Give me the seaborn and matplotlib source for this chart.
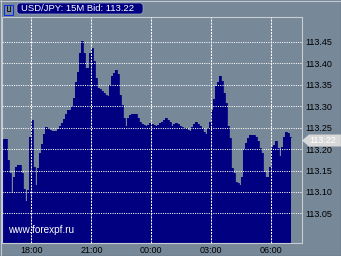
import matplotlib
matplotlib.use("Agg")
import matplotlib.pyplot as plt
import matplotlib.dates as mdates
from matplotlib.patches import FancyBboxPatch, Rectangle, Polygon
from matplotlib.lines import Line2D
from matplotlib.transforms import IdentityTransform
import pandas as pd
import seaborn as sns

# ---------------- data ----------------
symbol = "USD/JPY"
timeframe = "15M"
bid = 113.22
start_time = "2007-01-01 16:36"
bar_minutes = 6
prices = [
    113.223, 113.223, 113.175, 113.144, 113.097, 113.136, 113.159, 113.163, 113.163, 113.144,
    113.108, 113.079, 113.105, 113.229, 113.268, 113.159, 113.116, 113.155, 113.190, 113.212,
    113.236, 113.251, 113.249, 113.245, 113.243, 113.243, 113.243, 113.247, 113.253, 113.261,
    113.270, 113.282, 113.292, 113.292, 113.301, 113.318, 113.357, 113.379, 113.424, 113.452,
    113.424, 113.389, 113.389, 113.424, 113.436, 113.405, 113.366, 113.342, 113.339, 113.335,
    113.331, 113.327, 113.323, 113.350, 113.370, 113.377, 113.384, 113.374, 113.327, 113.303,
    113.272, 113.253, 113.272, 113.280, 113.282, 113.282, 113.282, 113.272, 113.263, 113.259,
    113.257, 113.253, 113.257, 113.261, 113.259, 113.257, 113.253, 113.257, 113.261, 113.264,
    113.268, 113.272, 113.268, 113.262, 113.254, 113.258, 113.261, 113.259, 113.254, 113.251,
    113.249, 113.249, 113.245, 113.243, 113.251, 113.259, 113.262, 113.258, 113.254, 113.249,
    113.241, 113.236, 113.249, 113.264, 113.292, 113.317, 113.346, 113.356, 113.370, 113.358,
    113.331, 113.307, 113.253, 113.225, 113.155, 113.144, 113.124, 113.122, 113.116, 113.136,
    113.200, 113.214, 113.225, 113.233, 113.233, 113.233, 113.228, 113.220, 113.202, 113.190,
    113.147, 113.134, 113.136, 113.159, 113.204, 113.210, 113.220, 113.202, 113.183, 113.206,
    113.229, 113.241, 113.237, 113.229,
]
y_ticks = [113.05, 113.10, 113.15, 113.20, 113.25, 113.30, 113.35, 113.40, 113.45]
x_tick_times = ["2007-01-01 18:00", "2007-01-01 21:00", "2007-01-02 00:00",
                "2007-01-02 03:00", "2007-01-02 06:00"]
x_tick_labels = ["18:00", "21:00", "00:00", "03:00", "06:00"]
x_range = ["2007-01-01 16:32", "2007-01-02 07:32"]
y_range = [112.981, 113.508]
watermark = "www.forexpf.ru"

# ---------------- style ----------------
BG = "#778899"
NAVY = "#000080"
FRAME = "#c8cdd2"

sns.set_style("ticks")
plt.rcParams["font.family"] = ["Liberation Sans", "DejaVu Sans"]

W, H = 341, 256
fig = plt.figure(figsize=(W / 100, H / 100), dpi=100, facecolor=BG)
ax = fig.add_axes([2 / W, 1 - 243 / H, 300 / W, 226 / H])
ax.set_facecolor(BG)

times = pd.date_range(start_time, periods=len(prices) + 1, freq=f"{bar_minutes}min")
df = pd.DataFrame({"time": times, "price": prices + [prices[-1]]})

ax.fill_between(df["time"], df["price"], y_range[0], step="post",
                color=NAVY, lw=0, zorder=1)
sns.lineplot(data=df, x="time", y="price", drawstyle="steps-post",
             color=NAVY, lw=0.6, ax=ax, zorder=2)

ax.set_xlim(pd.Timestamp(x_range[0]), pd.Timestamp(x_range[1]))
ax.set_ylim(*y_range)
ax.set_xlabel("")
ax.set_ylabel("")

ax.set_xticks([pd.Timestamp(t) for t in x_tick_times])
ax.set_xticklabels(x_tick_labels)
ax.set_yticks(y_ticks)
ax.set_yticklabels([f"{v:.2f}" for v in y_ticks])
ax.yaxis.tick_right()
ax.tick_params(axis="y", length=0, pad=2.5, labelsize=6.5, labelcolor="black")
ax.tick_params(axis="x", length=0, pad=2.5, labelsize=6.5, labelcolor="black")

ax.set_axisbelow(False)
ax.grid(axis="x", color="white", ls=(0, (2, 1)), lw=0.75)
ax.grid(axis="y", color="white", ls=(0, (1, 1.2)), lw=0.75)

for s in ax.spines.values():
    s.set_color(FRAME)
    s.set_linewidth(0.8)
    s.set_visible(True)

# ---------------- decorations ----------------
ident = IdentityTransform()

# figure 3D border
fig.add_artist(Line2D([0, W], [H - 0.5, H - 0.5], color="#c0c8d0", lw=0.8, transform=ident))
fig.add_artist(Line2D([0.5, 0.5], [0, H], color="#c0c8d0", lw=0.8, transform=ident))
fig.add_artist(Line2D([0, W], [0.5, 0.5], color="#303030", lw=0.8, transform=ident))
fig.add_artist(Line2D([W - 0.5, W - 0.5], [0, H], color="#303030", lw=0.8, transform=ident))

# title box
fig.add_artist(FancyBboxPatch((17, H - 14), 126, 11, boxstyle="round,pad=0,rounding_size=3",
                              fc=NAVY, ec="#a0a8c0", lw=0.5, transform=ident))
fig.text(21, H - 8.7, f"{symbol}: {timeframe} Bid: {bid:.2f}", color="white",
         fontsize=6.8, va="center", ha="left", transform=ident)

# small icon
fig.add_artist(Rectangle((4, H - 14.5), 8.5, 10, fc="none", ec="#1030e0", lw=0.8, transform=ident))
fig.add_artist(Line2D([6.5, 6.5, 10, 10], [H - 6, H - 11, H - 11, H - 6],
                      color="black", lw=0.6, transform=ident))

# bid marker on the right axis
x0 = mdates.date2num(df["time"].iloc[0])
_, yb = ax.transData.transform((x0, bid))
fig.add_artist(Polygon([(302, yb), (309, yb + 6), (W, yb + 6), (W, yb - 6), (309, yb - 6)],
                       closed=True, fc="#d8d8d8", ec="none", transform=ident))
fig.text(323, yb, f"{bid:.2f}", color="white", fontsize=6.5, va="center", ha="center",
         transform=ident)

# watermark
ax.text(0.02, 0.035, watermark, transform=ax.transAxes, color="white",
        fontsize=7.2, ha="left", va="bottom", zorder=5)

fig.savefig("out.png", dpi=100, facecolor=BG)
